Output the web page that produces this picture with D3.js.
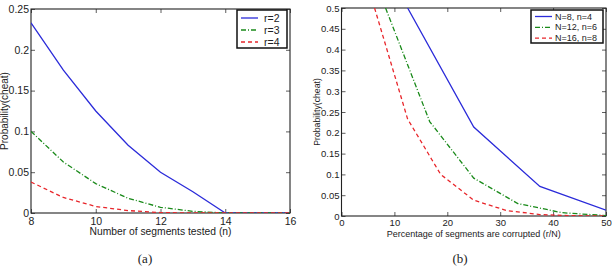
<!DOCTYPE html>
<html>
<head>
<meta charset="utf-8">
<script src="https://cdn.jsdelivr.net/npm/d3@7"></script>
<style>
  body { margin: 0; background: #fff; }
  svg text { font-family: "Liberation Sans", Arial, sans-serif; fill: #222; }
  .caption { font-family: "Liberation Serif", "Times New Roman", serif !important; }
</style>
</head>
<body>
<svg id="chart" width="612" height="273"></svg>
<script>
// (a) probability vs number of segments tested
const nTested = [8, 9, 10, 11, 12, 13, 14, 15, 16];
const cheatR2 = [0.233, 0.175, 0.125, 0.083, 0.05, 0.026, 0, 0, 0];
const cheatR3 = [0.1, 0.0625, 0.036, 0.018, 0.007, 0.002, 0, 0, 0];
const cheatR4 = [0.038, 0.019, 0.008, 0.003, 0.0005, 0, 0, 0, 0];
const ticksA_x = [8, 10, 12, 14, 16];
const ticksA_y = [0, 0.05, 0.1, 0.15, 0.2, 0.25];

// (b) probability vs percentage corrupted
const pctN8 = [12.5, 25, 37.5, 50];
const cheatN8 = [0.5, 0.214, 0.071, 0.014];
const pctN12 = [8.33, 16.67, 25, 33.33, 41.67, 50];
const cheatN12 = [0.5, 0.227, 0.091, 0.03, 0.008, 0.001];
const pctN16 = [6.25, 12.5, 18.75, 25, 31.25, 37.5, 43.75, 50];
const cheatN16 = [0.5, 0.233, 0.1, 0.038, 0.013, 0.0035, 0.0007, 0.0001];
const ticksB_x = [0, 10, 20, 30, 40, 50];
const ticksB_y = [0, 0.05, 0.1, 0.15, 0.2, 0.25, 0.3, 0.35, 0.4, 0.45, 0.5];

const svg = d3.select('#chart');

const styles = {
  blue: { color: '#2b2bd9', dash: null },
  green: { color: '#1a8a1a', dash: '5,2,1,2' },
  red: { color: '#e8262b', dash: '4,3' }
};

function panel(opts) {
  const { x0, x1, yTop, yBot, xDomain, yDomain, xTicks, yTicks, fontSize, tickPad, series, legend, xLabel, labelFont, caption, yLabelX, xLabelY } = opts;
  const x = d3.scaleLinear().domain(xDomain).range([x0, x1]);
  const y = d3.scaleLinear().domain(yDomain).range([yBot, yTop]);
  const g = svg.append('g');

  // clip for lines
  const id = 'clip' + Math.round(x0);
  svg.append('clipPath').attr('id', id)
    .append('rect').attr('x', x0).attr('y', yTop).attr('width', x1 - x0).attr('height', yBot - yTop);

  const fmt = d => String(d);

  const bottom = g.append('g').attr('transform', `translate(0,${yBot})`)
    .call(d3.axisBottom(x).tickValues(xTicks).tickFormat(fmt).tickSize(-4).tickPadding(tickPad));
  g.append('g').attr('transform', `translate(${x0},0)`)
    .call(d3.axisLeft(y).tickValues(yTicks).tickFormat(fmt).tickSize(-4).tickPadding(2));
  // top / right ticks, no labels
  g.append('g').attr('transform', `translate(0,${yTop})`)
    .call(d3.axisTop(x).tickValues(xTicks).tickFormat('').tickSize(-4));
  g.append('g').attr('transform', `translate(${x1},0)`)
    .call(d3.axisRight(y).tickValues(yTicks).tickFormat('').tickSize(-4));

  g.selectAll('.domain').remove();
  g.selectAll('.tick line').attr('stroke', '#333').attr('stroke-width', 0.8);
  g.selectAll('.tick text').style('font-size', fontSize + 'px').attr('fill', '#222');
  bottom.selectAll('.tick text').attr('dy', '0.75em');

  g.append('rect').attr('x', x0).attr('y', yTop).attr('width', x1 - x0).attr('height', yBot - yTop)
    .attr('fill', 'none').attr('stroke', '#222').attr('stroke-width', 1.1);

  const line = d3.line().x(d => x(d[0])).y(d => y(d[1]));
  series.forEach(s => {
    const pts = s.xs.map((v, i) => [v, s.ys[i]]);
    svg.append('path').datum(pts)
      .attr('clip-path', `url(#${id})`)
      .attr('d', line)
      .attr('fill', 'none')
      .attr('stroke', styles[s.style].color)
      .attr('stroke-width', 1.3)
      .attr('stroke-dasharray', styles[s.style].dash);
  });

  // legend
  const lg = svg.append('g');
  lg.append('rect').attr('x', legend.x).attr('y', legend.y).attr('width', legend.w).attr('height', legend.h)
    .attr('fill', '#fff').attr('stroke', '#111').attr('stroke-width', 1.5);
  series.forEach((s, i) => {
    const ly = legend.y + legend.first + i * legend.step;
    lg.append('line').attr('x1', legend.x + 4).attr('x2', legend.x + 4 + legend.sample)
      .attr('y1', ly).attr('y2', ly)
      .attr('stroke', styles[s.style].color).attr('stroke-width', 1.3)
      .attr('stroke-dasharray', styles[s.style].dash);
    lg.append('text').attr('x', legend.x + legend.sample + legend.gap).attr('y', ly).attr('dy', '0.35em')
      .style('font-size', legend.font + 'px').text(s.name);
  });

  // axis labels
  svg.append('text').attr('x', (x0 + x1) / 2).attr('y', xLabelY).attr('text-anchor', 'middle')
    .style('font-size', labelFont + 'px').text(xLabel);
  svg.append('text').attr('transform', `translate(${yLabelX},${(yTop + yBot) / 2}) rotate(-90)`)
    .attr('text-anchor', 'middle').style('font-size', (labelFont - 0.3) + 'px').text('Probability(cheat)');
  svg.append('text').attr('class', 'caption').attr('x', caption.x).attr('y', caption.y)
    .attr('text-anchor', 'middle').style('font-size', '13px').text(caption.text);
}

panel({
  x0: 31, x1: 290, yTop: 9, yBot: 213,
  xDomain: [8, 16], yDomain: [0, 0.25],
  xTicks: ticksA_x, yTicks: ticksA_y, fontSize: 10.5, tickPad: 4,
  series: [
    { name: 'r=2', xs: nTested, ys: cheatR2, style: 'blue' },
    { name: 'r=3', xs: nTested, ys: cheatR3, style: 'green' },
    { name: 'r=4', xs: nTested, ys: cheatR4, style: 'red' }
  ],
  legend: { x: 237, y: 10, w: 50, h: 38, first: 8, step: 12, sample: 17, gap: 10, font: 10.5 },
  xLabel: 'Number of segments tested (n)', labelFont: 10.3, xLabelY: 235,
  yLabelX: 8, caption: { x: 145, y: 263, text: '(a)' }
});

panel({
  x0: 341.5, x1: 606, yTop: 8, yBot: 216,
  xDomain: [0, 50], yDomain: [0, 0.5],
  xTicks: ticksB_x, yTicks: ticksB_y, fontSize: 9.5, tickPad: 3,
  series: [
    { name: 'N=8, n=4', xs: pctN8, ys: cheatN8, style: 'blue' },
    { name: 'N=12, n=6', xs: pctN12, ys: cheatN12, style: 'green' },
    { name: 'N=16, n=8', xs: pctN16, ys: cheatN16, style: 'red' }
  ],
  legend: { x: 531, y: 10, w: 72, h: 33, first: 6.5, step: 10.8, sample: 17, gap: 7, font: 9 },
  xLabel: 'Percentage of segments are corrupted (r/N)', labelFont: 9, xLabelY: 236.5,
  yLabelX: 320, caption: { x: 460, y: 263, text: '(b)' }
});
</script>
</body>
</html>
